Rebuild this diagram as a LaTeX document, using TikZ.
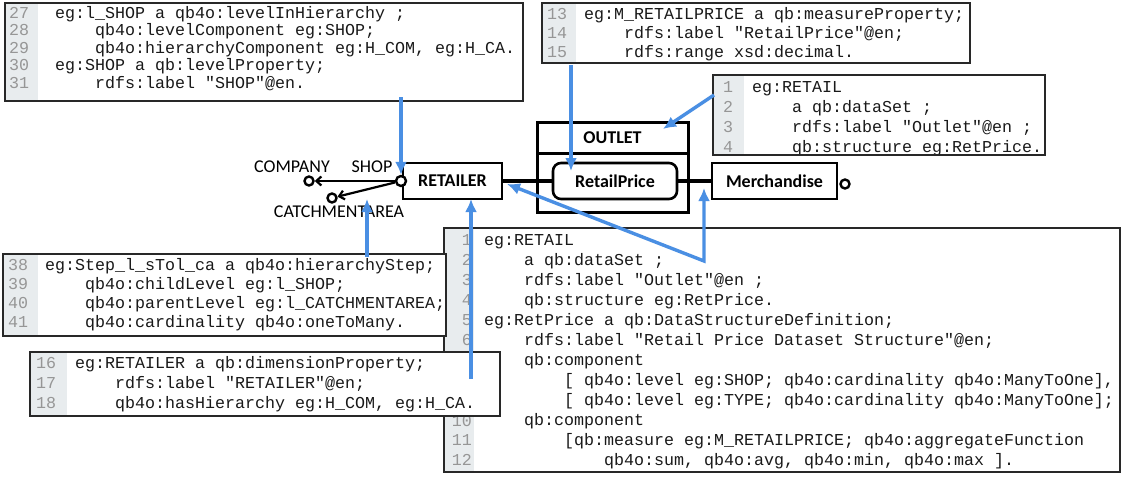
\documentclass[tikz,border=0pt]{standalone}
\usepackage{fontspec}
\usetikzlibrary{arrows.meta}
\newfontfamily\codefont{Liberation Mono}
\newfontfamily\labfont{Carlito}
\definecolor{blu}{RGB}{74,143,227}
\definecolor{gut}{RGB}{232,236,238}
\definecolor{numc}{RGB}{150,150,150}
\definecolor{codec}{RGB}{25,25,25}
\definecolor{bord}{RGB}{40,40,40}
\begin{document}
\begin{tikzpicture}[x=1pt,y=-1pt,
 codebox/.style={fill=white, inner sep=0pt, outer sep=0pt, anchor=north west},
 boxline/.style={draw=bord, line width=1.8pt},
 gutter/.style={fill=gut},
 code/.style={font=\codefont\fontsize{16.66}{20}\selectfont, text=codec, inner sep=0pt, anchor=base west},
 lnum/.style={font=\codefont\fontsize{16.66}{20}\selectfont, text=numc, inner sep=0pt, anchor=base west},
 lnumr/.style={lnum, anchor=base east},
 ent/.style={draw=black, line width=2.6pt, inner sep=0pt, outer sep=0pt, font=\labfont\bfseries\fontsize{18}{20}\selectfont},
 enttxt/.style={inner sep=0pt, font=\labfont\bfseries\fontsize{18}{20}\selectfont},
 lab/.style={font=\labfont\fontsize{18}{20}\selectfont, inner sep=0pt},
 bluearrow/.style={draw=blu, line width=3.4pt, -{Latex[length=13pt,width=12pt]}},
 bluetwo/.style={draw=blu, line width=3.4pt, {Latex[length=13pt,width=12pt]}-{Latex[length=13pt,width=12pt]}},
 harrow/.style={draw=black, line width=2.2pt, -{Straight Barb[length=5pt,width=9pt]}},
 ring/.style={circle, draw=black, line width=2.4pt, fill=white, minimum size=10pt, inner sep=0pt},
 conn/.style={draw=black, line width=3.5pt}
]
\useasboundingbox (0,0) rectangle (1125,477);
\fill[white] (0,0) rectangle (1125,477);

% ---------- Box F (bottom right, lines 1-12)
\node[codebox, minimum width=676pt, minimum height=244pt] (boxF) at (444,228) {};
\fill[gutter] (boxF.north west) rectangle ([xshift=30pt]boxF.south west);
\node[lnumr] (f1n) at (472,245) {1};
\node[lnumr] (f2n) at (472,265) {2};
\node[lnumr] (f3n) at (472,285) {3};
\node[lnumr] (f4n) at (472,305) {4};
\node[lnumr] (f5n) at (472,325) {5};
\node[lnumr] (f6n) at (472,345) {6};
\node[lnumr] (f10n) at (472,426) {10};
\node[lnumr] (f11n) at (472,445) {11};
\node[lnumr] (f12n) at (472,465) {12};
\node[code] (f1) at (484,245) {eg:RETAIL};
\node[code] (f2) at (524,265) {a qb:dataSet ;};
\node[code] (f3) at (524,285) {rdfs:label "Outlet"@en ;};
\node[code] (f4) at (524,305) {qb:structure eg:RetPrice.};
\node[code] (f5) at (484,325) {eg:RetPrice a qb:DataStructureDefinition;};
\node[code] (f6) at (524,345) {rdfs:label "Retail Price Dataset Structure"@en;};
\node[code] (f7) at (524,365) {qb:component};
\node[code] (f8) at (564,385) {[ qb4o:level eg:SHOP; qb4o:cardinality qb4o:ManyToOne],};
\node[code] (f9) at (564,405) {[ qb4o:level eg:TYPE; qb4o:cardinality qb4o:ManyToOne];};
\node[code] (f10) at (524,425) {qb:component};
\node[code] (f11) at (564,445) {[qb:measure eg:M\_RETAILPRICE; qb4o:aggregateFunction};
\node[code] (f12) at (604,465) {qb4o:sum, qb4o:avg, qb4o:min, qb4o:max ].};
\draw[boxline] (boxF.north west) rectangle (boxF.south east);

% ---------- Box D (lines 38-41)
\node[codebox, minimum width=443pt, minimum height=82pt] (boxD) at (3,254) {};
\fill[gutter] (boxD.north west) rectangle ([xshift=35pt]boxD.south west);
\node[lnum] (d1n) at (8,270) {38};
\node[lnum] (d2n) at (8,289) {39};
\node[lnum] (d3n) at (8,308) {40};
\node[lnum] (d4n) at (8,327) {41};
\node[code] (d1) at (45,270) {eg:Step\_l\_sTol\_ca a qb4o:hierarchyStep;};
\node[code] (d2) at (85,289) {qb4o:childLevel eg:l\_SHOP;};
\node[code] (d3) at (85,308) {qb4o:parentLevel eg:l\_CATCHMENTAREA;};
\node[code] (d4) at (85,327) {qb4o:cardinality qb4o:oneToMany.};
\draw[boxline] (boxD.north west) rectangle (boxD.south east);

% ---------- Box E (lines 16-18)
\node[codebox, minimum width=470pt, minimum height=64pt] (boxE) at (30,352) {};
\fill[gutter] (boxE.north west) rectangle ([xshift=37pt]boxE.south west);
\node[lnum] (e1n) at (36,368) {16};
\node[lnum] (e2n) at (36,388) {17};
\node[lnum] (e3n) at (36,408) {18};
\node[code] (e1) at (75,368) {eg:RETAILER a qb:dimensionProperty;};
\node[code] (e2) at (115,388) {rdfs:label "RETAILER"@en;};
\node[code] (e3) at (115,408) {qb4o:hasHierarchy eg:H\_COM, eg:H\_CA.};
\draw[boxline] (boxE.north west) rectangle (boxE.south east);

% ---------- Box A (lines 27-31)
\node[codebox, minimum width=518pt, minimum height=98pt] (boxA) at (5,3) {};
\fill[gutter] (boxA.north west) rectangle ([xshift=33pt]boxA.south west);
\node[lnum] (a1n) at (9,18) {27};
\node[lnum] (a2n) at (9,35.5) {28};
\node[lnum] (a3n) at (9,53) {29};
\node[lnum] (a4n) at (9,70.5) {30};
\node[lnum] (a5n) at (9,88) {31};
\node[code] (a1) at (55,18) {eg:l\_SHOP a qb4o:levelInHierarchy ;};
\node[code] (a2) at (95,35.5) {qb4o:levelComponent eg:SHOP;};
\node[code] (a3) at (95,53) {qb4o:hierarchyComponent eg:H\_COM, eg:H\_CA.};
\node[code] (a4) at (55,70.5) {eg:SHOP a qb:levelProperty;};
\node[code] (a5) at (95,88) {rdfs:label "SHOP"@en.};
\draw[boxline] (boxA.north west) rectangle (boxA.south east);

% ---------- Box B (lines 13-15)
\node[codebox, minimum width=428pt, minimum height=60pt] (boxB) at (542,3) {};
\fill[gutter] (boxB.north west) rectangle ([xshift=34pt]boxB.south west);
\node[lnum] (b1n) at (547,19) {13};
\node[lnum] (b2n) at (547,38) {14};
\node[lnum] (b3n) at (547,57) {15};
\node[code] (b1) at (584,19) {eg:M\_RETAILPRICE a qb:measureProperty;};
\node[code] (b2) at (624,38) {rdfs:label "RetailPrice"@en;};
\node[code] (b3) at (624,57) {rdfs:range xsd:decimal.};
\draw[boxline] (boxB.north west) rectangle (boxB.south east);

% ---------- Box C (lines 1-4)
\node[codebox, minimum width=332pt, minimum height=80pt] (boxC) at (713,75) {};
\begin{scope}
\clip (boxC.north west) rectangle (boxC.south east);
\fill[gutter] (boxC.north west) rectangle ([xshift=31pt]boxC.south west);
\node[lnum] (c1n) at (723,92) {1};
\node[lnum] (c2n) at (723,112) {2};
\node[lnum] (c3n) at (723,132) {3};
\node[lnum] (c4n) at (723,152) {4};
\node[code] (c1) at (752,92) {eg:RETAIL};
\node[code] (c2) at (792,112) {a qb:dataSet ;};
\node[code] (c3) at (792,132) {rdfs:label "Outlet"@en ;};
\node[code] (c4) at (792,152) {qb:structure eg:RetPrice.};
\end{scope}
\draw[boxline] (boxC.north west) rectangle (boxC.south east);

% ---------- Diagram
\node[ent, minimum width=151pt, minimum height=90pt, line width=3pt] (outlet) at (612.5,167) {};
\coordinate (dv) at (0,153);
\draw[black, line width=3pt] (outlet.west |- dv) -- (outlet.east |- dv);
\node[enttxt] (outlettxt) at (612.5,138) {OUTLET};
\node[ent, rounded corners=8pt, minimum width=124pt, minimum height=36pt] (rp) at (615,181) {RetailPrice};
\node[ent, minimum width=99pt, minimum height=36pt] (ret) at (452.5,181) {RETAILER};
\node[ent, minimum width=125pt, minimum height=36pt] (mer) at (774.5,181) {Merchandise};
\draw[conn] (ret.east) -- (rp.west);
\draw[conn] (rp.east) -- (mer.west);
\node[ring, minimum size=9pt] (mcirc) at (845,184) {};

\node[ring] (hcirc) at (401,181) {};
\node[ring, minimum size=9pt] (comp) at (309,181) {};
\node[ring, minimum size=9pt] (catch) at (332,198) {};
\draw[harrow] (hcirc) -- (comp);
\draw[harrow] (hcirc) -- (catch);
\node[lab] (complab) at (292,167) {COMPANY};
\node[lab] (shoplab) at (372,167) {SHOP};
\node[lab] (catchlab) at (339,212) {CATCHMENTAREA};

% ---------- Blue callout arrows
\coordinate (s1) at (401,97);
\coordinate (s2) at (571,65);
\coordinate (e2) at (571,171);
\coordinate (s3) at (714,95);
\coordinate (e3) at (663,129);
\coordinate (s4) at (367,257);
\coordinate (e4) at (367,199);
\coordinate (s5) at (471,379);
\coordinate (v6) at (704,261);
\coordinate (e6a) at (507,184);
\coordinate (e6b) at (704,188);
\draw[bluearrow] (s1) -- (hcirc.north);
\draw[bluearrow] (s2) -- (e2);
\draw[bluearrow] (s3) -- (e3);
\draw[bluearrow] (s4) -- (e4);
\draw[bluearrow] (s5) -- (s5 |- ret.south);
\draw[bluetwo] (e6a) -- (v6) -- (e6b);
\end{tikzpicture}
\end{document}
